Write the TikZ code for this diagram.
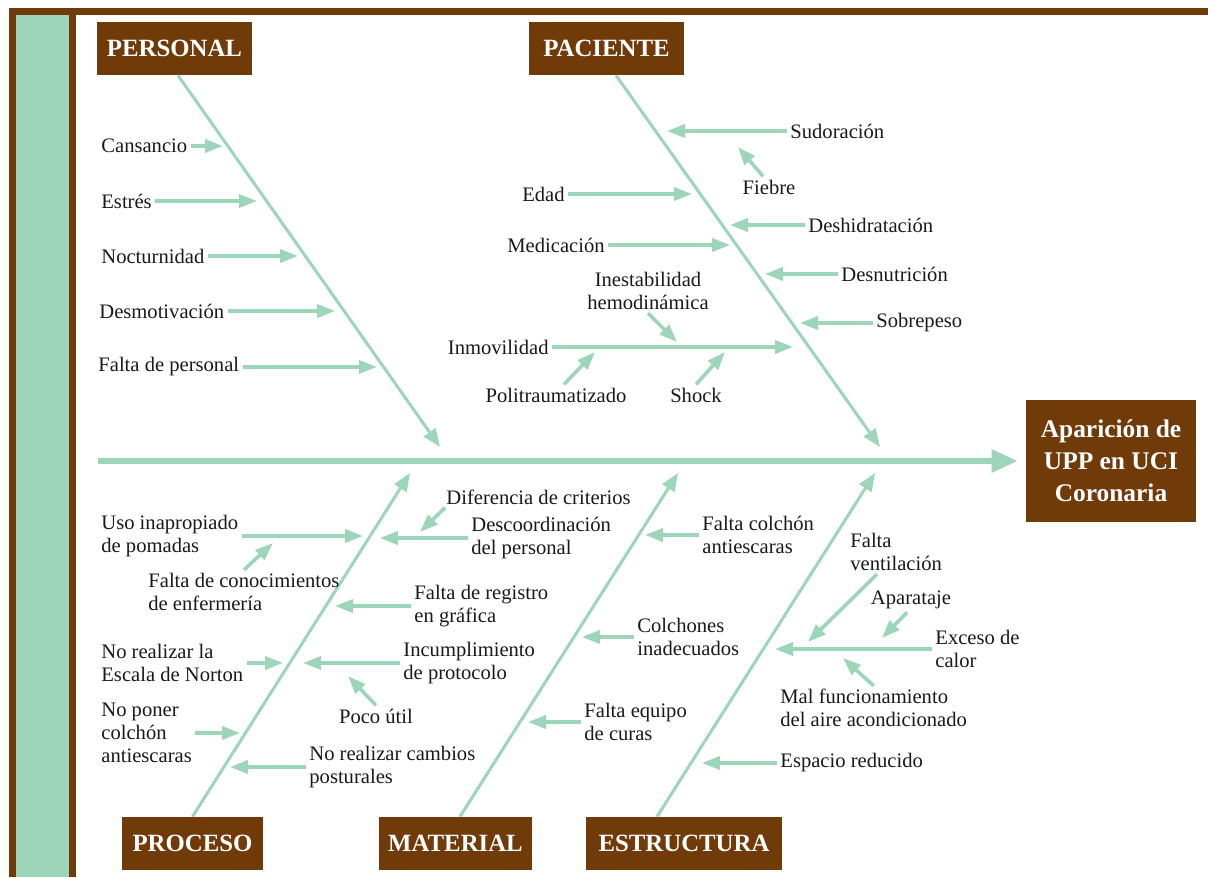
\documentclass[tikz,border=0pt]{standalone}
\usepackage{fontspec}
\setmainfont{Liberation Serif}
\usetikzlibrary{positioning,arrows.meta,calc}
\definecolor{fish_green}{HTML}{9CD5BA}
\definecolor{fish_brown}{HTML}{713A09}

\begin{document}
\begin{tikzpicture}[x=0.5pt,y=-0.5pt,
		cat_box/.style={fill=fish_brown,text=white,inner sep=0pt,minimum height=26.5pt,font=\fontsize{12.4}{14}\selectfont\bfseries},
		effect_box/.style={fill=fish_brown,text=white,inner sep=0pt,minimum width=85pt,minimum height=61pt,align=center,font=\fontsize{12.7}{16}\selectfont\bfseries},
		cause_label/.style={inner sep=1.5pt,align=left,text=black!90,font=\fontsize{10.3}{11.5}\selectfont},
		cause_arrow/.style={draw=fish_green,line width=1.8pt,-{Triangle[length=9pt,width=6.5pt]}},
		bone_arrow/.style={draw=fish_green,line width=1.5pt,-{Triangle[length=9pt,width=7pt]}},
		spine_arrow/.style={draw=fish_green,line width=3pt,-{Triangle[length=13pt,width=11pt]}}
		]
		
		\useasboundingbox (0,0) rectangle (1208,877);
		\fill[fish_brown] (9,8) rectangle (1208,15);
		\fill[fish_brown] (9,8) rectangle (76,877);
		\fill[fish_green] (16,15) rectangle (69,877);
		
		\node[cat_box, minimum width=77.5pt] (personal) at (174.5,48.5) {PERSONAL};
		\node[cat_box, minimum width=77.5pt] (paciente) at (606.5,48.5) {PACIENTE};
		\node[cat_box, minimum width=70.5pt] (proceso) at (192.5,843.5) {PROCESO};
		\node[cat_box, minimum width=76.5pt] (material) at (455.5,843.5) {MATERIAL};
		\node[cat_box, minimum width=98pt] (estructura) at (684,843.5) {ESTRUCTURA};
		\node[effect_box] (effect) at (1111,461) {Aparición de\\UPP en UCI\\Coronaria};
		
		\coordinate (spine_start) at (98,461);
		\coordinate (t_personal) at (440,447); \coordinate (t_paciente) at (880,447);
		\coordinate (t_proceso) at (410,473); \coordinate (t_material) at (678,473); \coordinate (t_estructura) at (875,473);
		
		\draw[spine_arrow, shorten >=4pt] (spine_start) -- (effect.west);
		\draw[bone_arrow] ([xshift=1.75pt]personal.south) -- (t_personal);
		\draw[bone_arrow] ([xshift=4.75pt]paciente.south) -- (t_paciente);
		\draw[bone_arrow] (proceso.north) -- (t_proceso);
		\draw[bone_arrow] ([xshift=2.25pt]material.north) -- (t_material);
		\draw[bone_arrow] ([xshift=-13.5pt]estructura.north) -- (t_estructura);
		
		\coordinate (t_cansancio) at (223,146); \coordinate (t_estres) at (257,201);
		\coordinate (t_nocturnidad) at (298,256); \coordinate (t_desmotivacion) at (335,311);
		\coordinate (t_falta_personal) at (377,367);
		\coordinate (t_sudoracion) at (667,131); \coordinate (t_fiebre) at (738,147);
		\coordinate (t_edad) at (692,194); \coordinate (t_deshidratacion) at (730,225);
		\coordinate (t_medicacion) at (730,245); \coordinate (t_desnutricion) at (765,274);
		\coordinate (t_sobrepeso) at (800,323); \coordinate (t_inmovilidad) at (793,347);
		\coordinate (t_inestabilidad) at (677,342); \coordinate (t_politrauma) at (595,352);
		\coordinate (t_shock) at (725,352);
		\coordinate (t_diferencia) at (420,532); \coordinate (t_descoord) at (380,538);
		\coordinate (t_uso) at (363,536); \coordinate (t_conocimientos) at (273,543);
		\coordinate (t_registro) at (335,606); \coordinate (t_norton) at (283,663);
		\coordinate (t_incumplimiento) at (303,663); \coordinate (t_poco_util) at (348,676);
		\coordinate (t_no_poner) at (240,733); \coordinate (t_cambios) at (230,767);
		\coordinate (t_falta_colchon) at (645,535); \coordinate (t_colchones) at (582,637);
		\coordinate (t_falta_equipo) at (528,722);
		\coordinate (t_ventilacion) at (808,642); \coordinate (t_aparataje) at (882,638);
		\coordinate (t_exceso) at (775,649); \coordinate (t_mal_func) at (843,658);
		\coordinate (t_espacio) at (702,763);
		
		\node[cause_label, anchor=west] (cansancio) at (98,146) {Cansancio};
		\node[cause_label, anchor=west] (estres) at (98,201) {Estrés};
		\node[cause_label, anchor=west] (nocturnidad) at (98,256) {Nocturnidad};
		\node[cause_label, anchor=west] (desmotivacion) at (96,311) {Desmotivación};
		\node[cause_label, anchor=west] (falta_personal) at (95,367) {Falta de personal};
		
		\node[cause_label, anchor=west] (sudoracion) at (787,131) {Sudoración};
		\node[cause_label] (fiebre) at (769,187) {Fiebre};
		\node[cause_label, anchor=east] (edad) at (568,194) {Edad};
		\node[cause_label, anchor=west] (deshidratacion) at (805,225) {Deshidratación};
		\node[cause_label, anchor=east] (medicacion) at (608,245) {Medicación};
		\node[cause_label, anchor=west] (desnutricion) at (838,274) {Desnutrición};
		\node[cause_label, anchor=west] (sobrepeso) at (873,323) {Sobrepeso};
		\node[cause_label, anchor=east] (inmovilidad) at (552,347) {Inmovilidad};
		\node[cause_label, align=center] (inestabilidad) at (648,291) {Inestabilidad\\hemodinámica};
		\node[cause_label] (politrauma) at (556,395) {Politraumatizado};
		\node[cause_label] (shock) at (696,395) {Shock};
		
		\node[cause_label, anchor=west] (diferencia) at (443,497) {Diferencia de criterios};
		\node[cause_label, anchor=west] (descoord) at (468,538) {Descoordinación\\del personal};
		\node[cause_label, anchor=west] (uso) at (98,536) {Uso inapropiado\\de pomadas};
		\node[cause_label, anchor=west] (conocimientos) at (145,592) {Falta de conocimientos\\de enfermería};
		\node[cause_label, anchor=west] (registro) at (411,606) {Falta de registro\\en gráfica};
		\node[cause_label, anchor=west] (norton) at (98,663) {No realizar la\\Escala de Norton};
		\node[cause_label, anchor=west] (incumplimiento) at (400,663) {Incumplimiento\\de protocolo};
		\node[cause_label] (poco_util) at (376,716) {Poco útil};
		\node[cause_label, anchor=west] (no_poner) at (98,733) {No poner\\colchón\\antiescaras};
		\node[cause_label, anchor=west] (cambios) at (306,767) {No realizar cambios\\posturales};
		
		\node[cause_label, anchor=west] (falta_colchon) at (699,535) {Falta colchón\\antiescaras};
		\node[cause_label, anchor=west] (colchones) at (634,637) {Colchones\\inadecuados};
		\node[cause_label, anchor=west] (falta_equipo) at (581,722) {Falta equipo\\de curas};
		
		\node[cause_label, anchor=west] (ventilacion) at (847,552) {Falta\\ventilación};
		\node[cause_label] (aparataje) at (911,600) {Aparataje};
		\node[cause_label, anchor=west] (exceso) at (932,649) {Exceso de\\calor};
		\node[cause_label, anchor=west] (mal_func) at (777,708) {Mal funcionamiento\\del aire acondicionado};
		\node[cause_label, anchor=west] (espacio) at (777,763) {Espacio reducido};
		
		\foreach \n in {cansancio, estres, nocturnidad, desmotivacion, falta_personal, edad, medicacion, inmovilidad, uso, norton, no_poner} \draw[cause_arrow] (\n.east) -- (t_\n);
		\foreach \n in {sudoracion, deshidratacion, desnutricion, sobrepeso, descoord, registro, incumplimiento, cambios, falta_colchon, colchones, falta_equipo, exceso, espacio} \draw[cause_arrow] (\n.west) -- (t_\n);
		
		\draw[cause_arrow] ([xshift=-3pt]fiebre.north) -- (t_fiebre);
		\draw[cause_arrow] (inestabilidad.south) -- (t_inestabilidad);
		\draw[cause_arrow] ([xshift=4pt]politrauma.north) -- (t_politrauma);
		\draw[cause_arrow] (shock.north) -- (t_shock);
		\draw[cause_arrow] ([xshift=1pt]diferencia.south west) -- (t_diferencia);
		\draw[cause_arrow] (conocimientos.north) -- (t_conocimientos);
		\draw[cause_arrow] (poco_util.north) -- (t_poco_util);
		\draw[cause_arrow] ([xshift=15pt]ventilacion.south west) -- (t_ventilacion);
		\draw[cause_arrow] ([xshift=-2pt]aparataje.south) -- (t_aparataje);
		\draw[cause_arrow] (mal_func.north) -- (t_mal_func);
	\end{tikzpicture}
\end{document}
